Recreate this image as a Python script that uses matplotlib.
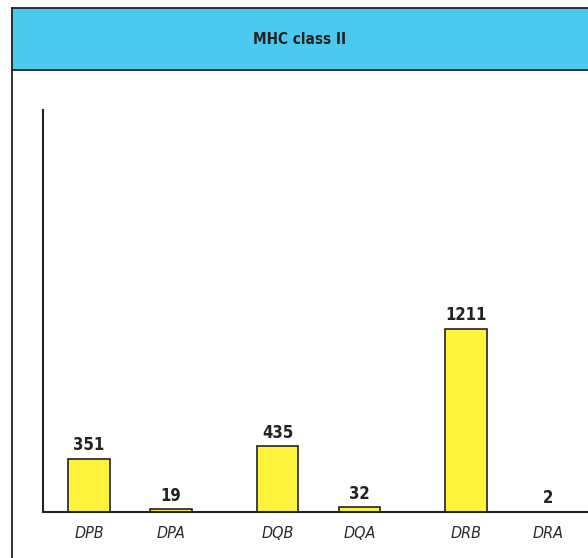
import matplotlib
matplotlib.use("Agg")
import matplotlib.pyplot as plt
from matplotlib.patches import Rectangle
from matplotlib.lines import Line2D

genes = ["DPB", "DPA", "DQB", "DQA", "DRB", "DRA"]
alleles = [351, 19, 435, 32, 1211, 2]
# genes are grouped in pairs (DP, DQ, DR), with a wider gap between pairs
positions = [0, 1, 2.3, 3.3, 4.6, 5.6]

plt.rcParams["font.family"] = ["DejaVu Sans"]
plt.rcParams["font.stretch"] = "condensed"

W, H = 588, 558
fig = plt.figure(figsize=(W / 100, H / 100), dpi=100)

# header band with title
fig.patches.append(Rectangle((12 / W, 1 - 70 / H), 1 - 12 / W, 62 / H,
                             transform=fig.transFigure, facecolor="#4cc9ef",
                             edgecolor="none", zorder=0))
for ln in [([12 / W, 1], [1 - 8 / H, 1 - 8 / H]),
           ([12 / W, 1], [1 - 70 / H, 1 - 70 / H]),
           ([12 / W, 12 / W], [0, 1 - 8 / H])]:
    fig.lines.append(Line2D(*ln, transform=fig.transFigure, color="#222222", lw=1.3))
fig.text((12 + W) / 2 / W, 1 - 39 / H, "MHC class II", ha="center", va="center",
         fontsize=11, fontweight="bold", color="#222222")

ax = fig.add_axes([43 / W, 46 / H, 1 - 43 / W, 402 / H])
ax.bar(positions, alleles, width=0.51, color="#fff43c", edgecolor="#222222",
       linewidth=1.2, zorder=2)
for x, v in zip(positions, alleles):
    ax.text(x, v + 30, str(v), ha="center", va="bottom", fontsize=12,
            fontweight="bold", color="#222222")

ax.set_xlim(-0.56, 6.085)
ax.set_ylim(0, 2660)
ax.set_xticks(positions)
ax.set_xticklabels(genes, fontstyle="italic", fontsize=11.5, color="#2a2a2a")
ax.tick_params(axis="x", length=0, pad=10)
ax.set_yticks([])
for s in ["top", "right"]:
    ax.spines[s].set_visible(False)
for s in ["left", "bottom"]:
    ax.spines[s].set_linewidth(1.5)
    ax.spines[s].set_color("#222222")

fig.savefig("out.png", dpi=100)
